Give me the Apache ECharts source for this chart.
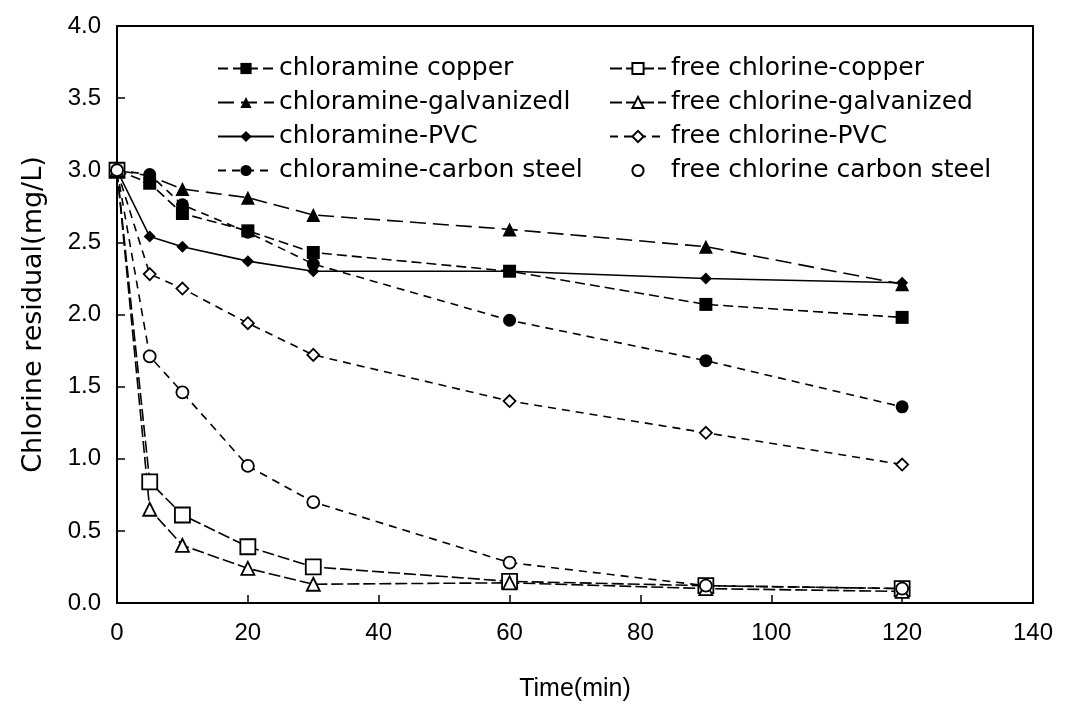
<!DOCTYPE html>
<html>
<head>
<meta charset="utf-8">
<script src="https://cdn.jsdelivr.net/npm/echarts@6/dist/echarts.min.js"></script>
<style>html,body{margin:0;padding:0;background:#fff;}#c{width:1078px;height:707px;}</style>
</head>
<body>
<div id="c"></div>
<script>
const times = [0, 5, 10, 20, 30, 60, 90, 120];
const chloramineCopper      = [3.0, 2.91, 2.70, 2.58, 2.43, 2.30, 2.07, 1.98];
const chloramineGalvanized  = [3.0, 2.96, 2.87, 2.81, 2.69, 2.59, 2.47, 2.21];
const chloraminePVC         = [3.0, 2.54, 2.47, 2.37, 2.30, 2.30, 2.25, 2.22];
const chloramineCarbonSteel = [3.0, 2.97, 2.76, 2.57, 2.35, 1.96, 1.68, 1.36];
const freeCopper            = [3.0, 0.84, 0.61, 0.39, 0.25, 0.15, 0.12, 0.10];
const freeGalvanized        = [3.0, 0.65, 0.40, 0.24, 0.13, 0.14, 0.10, 0.08];
const freePVC               = [3.0, 2.28, 2.18, 1.94, 1.72, 1.40, 1.18, 0.96];
const freeCarbonSteel       = [3.0, 1.71, 1.46, 0.95, 0.70, 0.28, 0.12, 0.10];
const xTicks = [0, 20, 40, 60, 80, 100, 120, 140];
const yTicks = ['0.0','0.5','1.0','1.5','2.0','2.5','3.0','3.5','4.0'];

const names = ['chloramine copper','chloramine-galvanizedl','chloramine-PVC','chloramine-carbon steel',
  'free chlorine-copper','free chlorine-galvanized','free chlorine-PVC','free chlorine carbon steel'];
const values = [chloramineCopper, chloramineGalvanized, chloraminePVC, chloramineCarbonSteel,
  freeCopper, freeGalvanized, freePVC, freeCarbonSteel];
const symbols = ['rect','triangle','diamond','circle','rect','triangle','diamond','circle'];
const sizes = [13, 14, 12, 13, 15, 13, 12, 12];
const filled = [true,true,true,true,false,false,false,false];
const dashes = [[10,5],[16,7],'solid',[8,6],[12,4],[12,4],[8,6],[8,6]];

const series = names.map((n,i)=>({
  name: n,
  type: 'line',
  data: times.map((t,j)=>[t, values[i][j]]),
  symbol: symbols[i],
  symbolSize: sizes[i],
  showAllSymbol: true,
  z: filled[i] ? 3 : 4,
  lineStyle: {color:'#000', width:1.6, type: dashes[i]},
  itemStyle: {color: filled[i] ? '#000' : '#fff', borderColor:'#000', borderWidth: filled[i]?0:1.8},
  emphasis: {disabled:true},
  animation:false
}));

const chart = echarts.init(document.getElementById('c'), null, {renderer:'canvas'});
const legendText = {fontFamily:'DejaVu Sans', fontSize:25, color:'#000', lineHeight:24};
chart.setOption({
  backgroundColor:'#fff',
  animation:false,
  grid:{left:117, top:26, right:45, bottom:104, show:true, borderColor:'#000', borderWidth:2, backgroundColor:'transparent'},
  legend:[
    {data:names.slice(0,4), orient:'vertical', left:212, top:51, itemWidth:56, itemHeight:14, itemGap:9,
     textStyle:legendText, selectedMode:false},
    {data:names.slice(4,7).map(n=>({name:n})).concat([{name:names[7], lineStyle:{opacity:0}}]),
     orient:'vertical', left:604, top:51, itemWidth:56, itemHeight:14, itemGap:9,
     textStyle:legendText, selectedMode:false}
  ],
  xAxis:{
    type:'value', min:0, max:140, interval:20,
    name:'Time(min)', nameLocation:'middle', nameGap:74,
    nameTextStyle:{fontFamily:'Liberation Sans', fontSize:25, color:'#000'},
    axisLine:{lineStyle:{color:'#000', width:2}},
    axisTick:{inside:true, length:8, lineStyle:{color:'#000', width:1.5}},
    axisLabel:{fontFamily:'Liberation Sans', fontSize:24, color:'#000', margin:18,
      formatter:(v)=> xTicks.includes(v) ? String(v) : ''},
    splitLine:{show:false}
  },
  yAxis:{
    type:'value', min:0, max:4, interval:0.5,
    name:'Chlorine residual(mg/L)', nameLocation:'middle', nameGap:70,
    nameTextStyle:{fontFamily:'DejaVu Sans', fontSize:27, color:'#000'},
    axisLine:{lineStyle:{color:'#000', width:2}},
    axisTick:{inside:true, length:8, lineStyle:{color:'#000', width:1.5}},
    axisLabel:{fontFamily:'Liberation Sans', fontSize:24, color:'#000', margin:16,
      formatter:(v)=> yTicks[Math.round(v/0.5)]},
    splitLine:{show:false}
  },
  series: series
});
</script>
</body>
</html>
